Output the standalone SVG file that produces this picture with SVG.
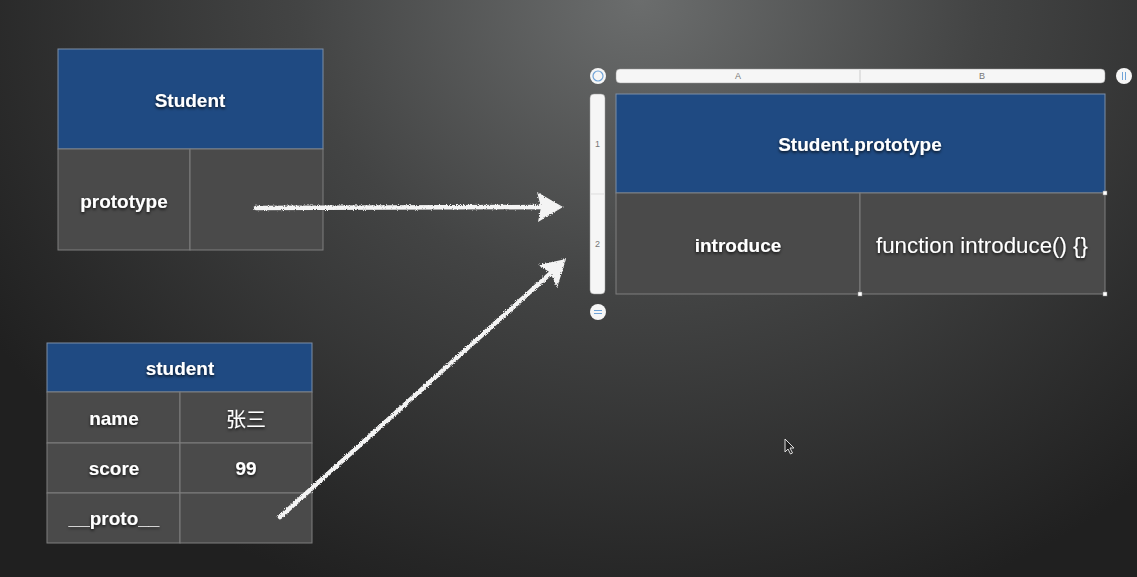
<svg xmlns="http://www.w3.org/2000/svg" width="1137" height="577" viewBox="0 0 1137 577">
<defs>
<radialGradient id="bg" cx="640" cy="0" r="760" gradientUnits="userSpaceOnUse" gradientTransform="translate(640 0) scale(1 0.85) translate(-640 0)">
<stop offset="0" stop-color="#6b6d6d"/>
<stop offset="0.45" stop-color="#434444"/>
<stop offset="1" stop-color="#202020"/>
</radialGradient>
<filter id="sh" x="-20%" y="-40%" width="140%" height="180%">
<feDropShadow dx="0" dy="1.5" stdDeviation="1.5" flood-color="#000" flood-opacity="0.8"/>
</filter>
<filter id="chalk" x="-10%" y="-10%" width="120%" height="120%">
<feTurbulence type="fractalNoise" baseFrequency="0.9" numOctaves="2" seed="3" result="n"/>
<feDisplacementMap in="SourceGraphic" in2="n" scale="3.5" xChannelSelector="R" yChannelSelector="G"/>
</filter>
<style>
.hd{fill:#1f4a82;stroke:#7d8ea6;stroke-width:1}
.cell{fill:#4a4a4a;stroke:#7e7e7e;stroke-width:1}
.t{font-family:"Liberation Sans",Arial,"Noto Sans CJK SC",sans-serif;fill:#fff;text-anchor:middle;dominant-baseline:central;font-size:19px}
.b{font-weight:bold}
.small{font-family:"Liberation Sans",Arial,sans-serif;fill:#777;font-size:9px;text-anchor:middle;dominant-baseline:central}
.chalk{stroke:#f4f4f4;stroke-width:4.5;fill:none;stroke-linecap:round}
.head{fill:#f4f4f4}
.h{fill:#fff;stroke:#888;stroke-width:0.5}
</style>
</defs>
<rect width="1137" height="577" fill="url(#bg)"/>

<g id="Student">
<rect class="hd" x="58" y="49" width="265" height="100"/>
<rect class="cell" x="58" y="149" width="132" height="101"/>
<rect class="cell" x="190" y="149" width="133" height="101"/>
<text class="t b" x="190" y="100" filter="url(#sh)">Student</text>
<text class="t b" x="124" y="201" filter="url(#sh)">prototype</text>
</g>

<g id="student">
<rect class="hd" x="47" y="343" width="265" height="49"/>
<rect class="cell" x="47" y="392" width="133" height="51"/>
<rect class="cell" x="180" y="392" width="132" height="51"/>
<rect class="cell" x="47" y="443" width="133" height="50"/>
<rect class="cell" x="180" y="443" width="132" height="50"/>
<rect class="cell" x="47" y="493" width="133" height="50"/>
<rect class="cell" x="180" y="493" width="132" height="50"/>
<text class="t b" x="180" y="368" filter="url(#sh)">student</text>
<text class="t b" x="114" y="418" filter="url(#sh)">name</text>
<text class="t" x="246" y="418" style="font-size:20px;font-family:'Noto Sans CJK SC',sans-serif" filter="url(#sh)">张三</text>
<text class="t b" x="114" y="468" filter="url(#sh)">score</text>
<text class="t b" x="246" y="468" filter="url(#sh)">99</text>
<text class="t b" x="114" y="518" filter="url(#sh)">__proto__</text>
</g>

<g id="Student.prototype">
<rect x="616" y="69" width="489" height="14" rx="4" fill="#f6f6f6" stroke="#999" stroke-width="0.5"/>
<line x1="860" y1="70" x2="860" y2="82" stroke="#ccc" stroke-width="1"/>
<text class="small" x="738" y="76">A</text>
<text class="small" x="982" y="76">B</text>
<rect x="590" y="94" width="15" height="200" rx="4" fill="#f6f6f6" stroke="#999" stroke-width="0.5"/>
<line x1="591" y1="194" x2="604" y2="194" stroke="#ddd" stroke-width="1"/>
<text class="small" x="597.5" y="144">1</text>
<text class="small" x="597.5" y="244">2</text>
<circle cx="598" cy="76" r="8" fill="#f6f6f6"/>
<circle cx="598" cy="76" r="5" fill="none" stroke="#6fa3d8" stroke-width="1.2"/>
<circle cx="1124" cy="76" r="8" fill="#f6f6f6"/>
<line x1="1122.5" y1="72" x2="1122.5" y2="80" stroke="#6fa3d8" stroke-width="1"/>
<line x1="1125.5" y1="72" x2="1125.5" y2="80" stroke="#6fa3d8" stroke-width="1"/>
<circle cx="598" cy="312" r="8" fill="#f6f6f6"/>
<line x1="594" y1="310.5" x2="602" y2="310.5" stroke="#6fa3d8" stroke-width="1"/>
<line x1="594" y1="313.5" x2="602" y2="313.5" stroke="#6fa3d8" stroke-width="1"/>
<rect class="hd" x="616" y="94" width="489" height="99"/>
<rect class="cell" x="616" y="193" width="244" height="101"/>
<rect class="cell" x="860" y="193" width="245" height="101"/>
<text class="t b" x="860" y="144" filter="url(#sh)">Student.prototype</text>
<text class="t b" x="738" y="245" filter="url(#sh)">introduce</text>
<text class="t" x="982" y="245" style="font-size:22.3px" filter="url(#sh)">function introduce() {}</text>
<rect class="h" x="1103" y="191" width="4" height="4"/>
<rect class="h" x="858" y="292" width="4" height="4"/>
<rect class="h" x="1103" y="292" width="4" height="4"/>
</g>

<g id="connectors" filter="url(#chalk)">
<line class="chalk" x1="256" y1="208" x2="545" y2="207"/>
<polygon class="head" points="537,192 563,207 538,222 541,207"/>
<line class="chalk" x1="280" y1="517" x2="552" y2="272"/>
<polygon class="head" points="538,265 566,259 557,288 551,273"/>
</g>

<g id="cursor">
<path d="M785,439 L785,452 L788,449 L790.5,454 L792.5,453 L790,448 L794,448 Z" fill="#222" stroke="#ddd" stroke-width="1"/>
</g>
</svg>
